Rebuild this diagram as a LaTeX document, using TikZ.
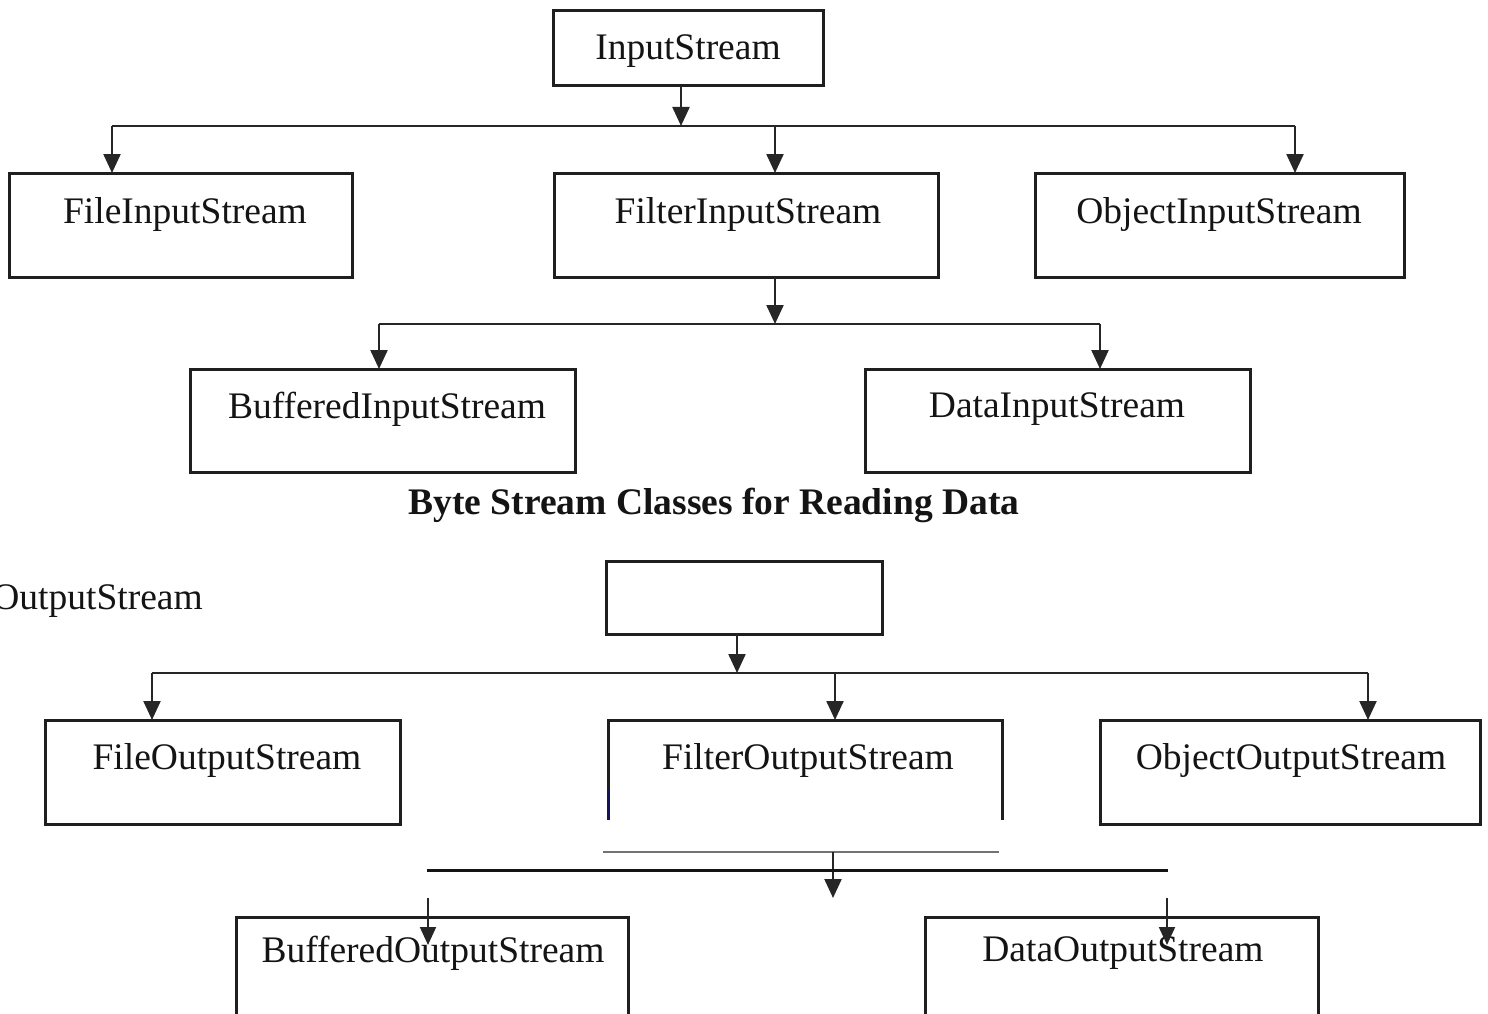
\documentclass[tikz,border=0pt]{standalone}
\usepackage{fontspec}
\setmainfont{Liberation Serif}
\usetikzlibrary{arrows.meta,calc}
\tikzset{
  box/.style={draw=black!88, line width=3pt, inner sep=0pt, outer sep=0pt, anchor=north west},
  lbl/.style={font=\fontsize{37.5}{40}\selectfont, inner sep=0pt, text=black!92},
  conn/.style={draw=black!85, line width=2.3pt},
  arr/.style={conn, -{Triangle[width=17pt,length=19pt]}},
  sarr/.style={conn, line width=1.9pt, -{Triangle[width=16pt,length=18pt]}},
}
\begin{document}
\begin{tikzpicture}[x=1pt,y=-1pt]
\useasboundingbox (0,0) rectangle (1488,1014);
\clip (0,0) rectangle (1488,1014);
% ---------- Input streams ----------
\node[box, minimum width=270pt, minimum height=75pt] (is) at (553,11) {};
\node[lbl] (ist) at (688,51) {InputStream};
\node[box, minimum width=343pt, minimum height=104pt] (fis) at (9,173) {};
\node[lbl] (fist) at (185,214) {FileInputStream};
\node[box, minimum width=384pt, minimum height=104pt] (flis) at (554,173) {};
\node[lbl] (flist) at (748,214) {FilterInputStream};
\node[box, minimum width=369pt, minimum height=104pt] (ois) at (1035,173) {};
\node[lbl] (oist) at (1219,214) {ObjectInputStream};
\node[box, minimum width=385pt, minimum height=103pt] (bis) at (190,369) {};
\node[lbl] (bist) at (387,409) {BufferedInputStream};
\node[box, minimum width=385pt, minimum height=103pt] (dis) at (865,369) {};
\node[lbl] (dist) at (1057,409) {DataInputStream};
\node[lbl, font=\fontsize{37.5}{40}\selectfont\bfseries] (title) at (714,505) {Byte Stream Classes for Reading Data};

\coordinate (j1) at (681,126);
\coordinate (j1L) at (112,126);
\coordinate (j1M) at (775,126);
\coordinate (j1R) at (1295,126);
\draw[arr] (j1 |- is.south) -- (j1);
\draw[conn] (j1L) -- (j1R);
\draw[arr] (j1L) -- (j1L |- fis.north);
\draw[arr] (j1M) -- (j1M |- flis.north);
\draw[arr] (j1R) -- (j1R |- ois.north);

\coordinate (j2) at (775,324);
\coordinate (j2L) at (379,324);
\coordinate (j2R) at (1100,324);
\draw[arr] (j2 |- flis.south) -- (j2);
\draw[conn] (j2L) -- (j2R);
\draw[arr] (j2L) -- (j2L |- bis.north);
\draw[arr] (j2R) -- (j2R |- dis.north);

% ---------- Output streams ----------
\node[lbl, anchor=east] (ost) at (203,601) {OutputStream};
\node[box, minimum width=276pt, minimum height=73pt] (os) at (606,561) {};
\node[box, minimum width=355pt, minimum height=104pt] (fos) at (45,720) {};
\node[lbl] (fost) at (227,760) {FileOutputStream};
\coordinate (flosTL) at (608,720);
\coordinate (flosTR) at (1002,720);
\draw[draw=black!88, line width=3pt] (608,820) -- (flosTL) -- (flosTR) -- (1002,820);
\draw[draw={rgb,255:red,20;green,20;blue,90}, line width=3pt] (608,790) -- (608,820);
\node[lbl] (flost) at (808,760) {FilterOutputStream};
\node[box, minimum width=380pt, minimum height=104pt] (oos) at (1100,720) {};
\node[lbl] (oost) at (1291,760) {ObjectOutputStream};

\coordinate (j3) at (737,673);
\coordinate (j3L) at (152,673);
\coordinate (j3M) at (835,673);
\coordinate (j3R) at (1368,673);
\draw[arr] (j3 |- os.south) -- (j3);
\draw[conn] (j3L) -- (j3R);
\draw[arr] (j3L) -- (j3L |- fos.north);
\draw[arr] (j3M) -- (j3M |- flosTL);
\draw[arr] (j3R) -- (j3R |- oos.north);

\coordinate (gL) at (603,852);
\coordinate (gR) at (999,852);
\draw[draw=black!55, line width=2.5pt] (gL) -- (gR);
\coordinate (j4) at (833,852);
\coordinate (j4e) at (833,898);
\draw[arr] (j4) -- (j4e);
\coordinate (kL) at (427,870);
\coordinate (kR) at (1168,870);
\draw[draw=black!92, line width=3pt] (kL) -- (kR);

\node[box, minimum width=392pt, minimum height=130pt] (bos) at (236,917) {};
\node[lbl] (bost) at (433,953) {BufferedOutputStream};
\node[box, minimum width=393pt, minimum height=130pt] (dos) at (925,917) {};
\node[lbl] (dost) at (1123,953) {DataOutputStream};
\coordinate (a1) at (428,898);
\coordinate (a2) at (1167,898);
\draw[sarr] (a1) -- ($(a1 |- bos.north)+(0,28)$);
\draw[sarr] (a2) -- ($(a2 |- dos.north)+(0,28)$);
\end{tikzpicture}
\end{document}
